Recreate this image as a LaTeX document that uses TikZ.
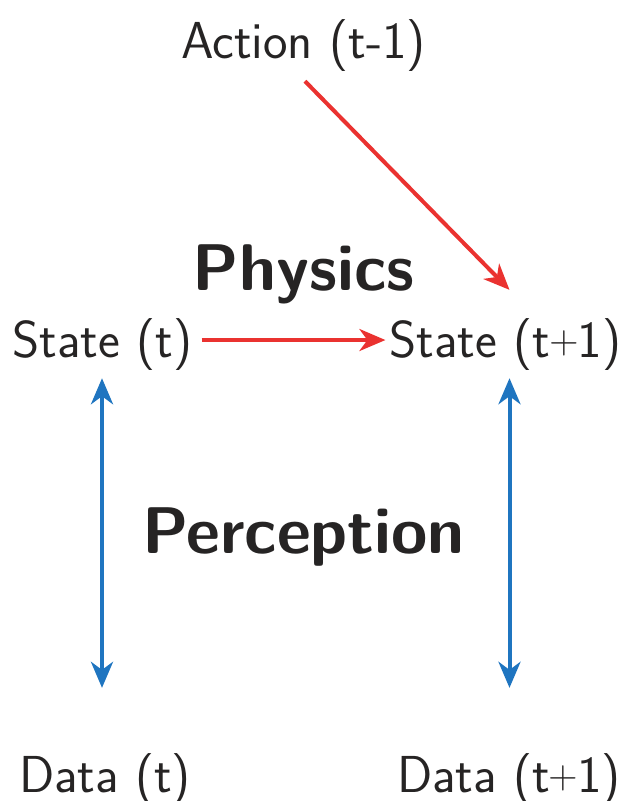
\documentclass[tikz,border=0pt]{standalone}
\usepackage{fontspec}
\usepackage{graphicx}
\usetikzlibrary{arrows.meta}
\definecolor{arrred}{RGB}{234,50,48}
\definecolor{arrblue}{RGB}{31,117,192}
\definecolor{txt}{RGB}{38,36,36}
\newcommand\smallplus{\kern-1pt\raisebox{4pt}{\scalebox{0.78}{+}}\kern-1pt}
\tikzset{
  lbl/.style={font=\sffamily\fontsize{52}{62}\selectfont, text=txt, inner sep=0pt, anchor=base},
  big/.style={font=\sffamily\bfseries\fontsize{66}{78}\selectfont, text=txt, inner sep=0pt, anchor=base},
  redarr/.style={draw=arrred, line width=4pt, -{Stealth[length=26pt,width=22pt,inset=8pt]}},
  bluearr/.style={draw=arrblue, line width=4pt, {Stealth[length=26pt,width=22pt,inset=8pt]}-{Stealth[length=26pt,width=22pt,inset=8pt]}}
}
\begin{document}
\begin{tikzpicture}[x=1pt,y=-1pt]
\useasboundingbox (0,0) rectangle (627,801);
\node[lbl] (act) at (303.5,58) {Action (t-1)};
\node[lbl] (s1) at (102.5,357) {State (t)};
\node[lbl] (s2) at (505.5,357) {State (t\smallplus1)};
\node[lbl] (d1) at (105,792) {Data (t)};
\node[lbl] (d2) at (509,792) {Data (t\smallplus1)};
\node[big] (phys) at (303.5,290) {Physics};
\node[big] (perc) at (303.5,553) {Perception};
\draw[redarr] ([xshift=1.5pt,yshift=-10pt]act.south) -- ([xshift=4pt,yshift=28pt]s2.north);
\draw[redarr] ([xshift=9pt,yshift=4pt]s1.east) -- ([xshift=-4pt,yshift=4pt]s2.west);
\draw[bluearr] ([xshift=-0.5pt,yshift=-8pt]s1.south) -- ([xshift=-0.5pt,yshift=65pt]s1.south |- d1.north);
\draw[bluearr] ([xshift=4pt,yshift=-8pt]s2.south) -- ([xshift=4pt,yshift=65pt]s2.south |- d2.north);
\end{tikzpicture}
\end{document}
